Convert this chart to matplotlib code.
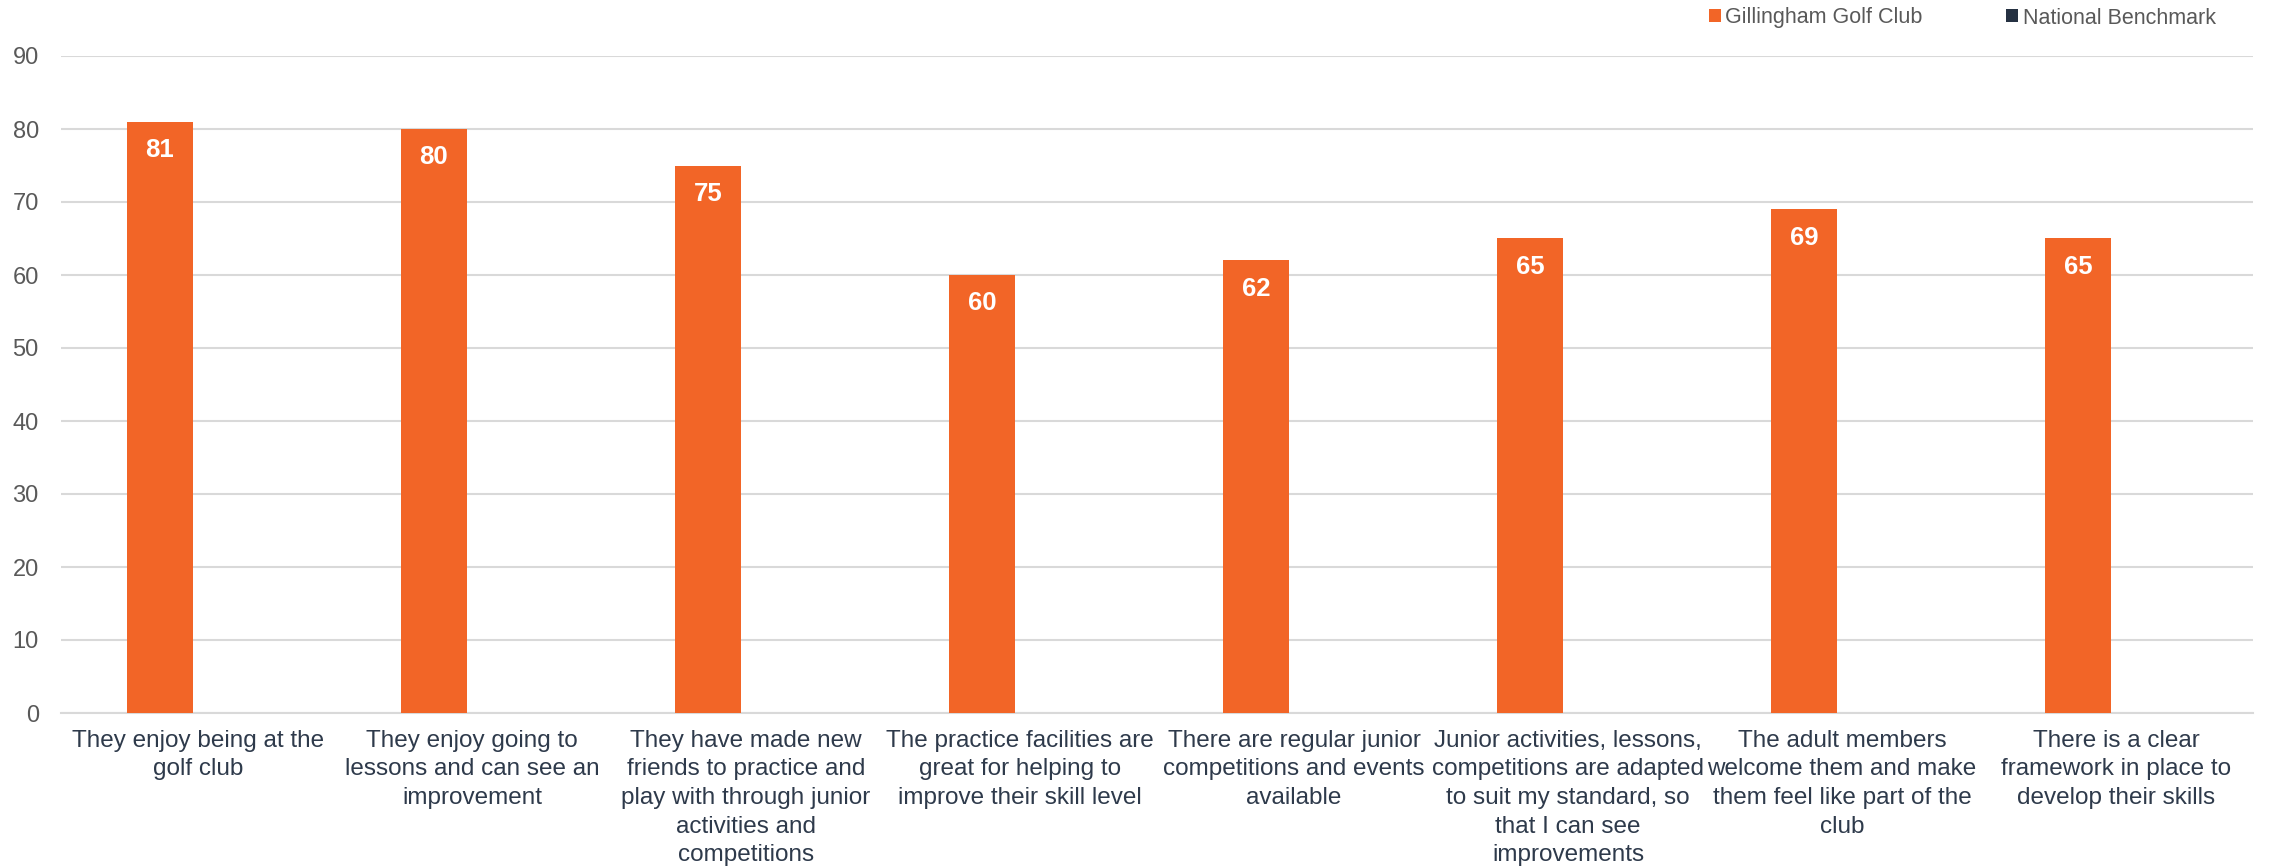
import numpy as np
import matplotlib.pyplot as plt

plt.rcParams['font.family'] = ['Liberation Sans', 'DejaVu Sans']

categories = [
    "They enjoy being at the\ngolf club",
    "They enjoy going to\nlessons and can see an\nimprovement",
    "They have made new\nfriends to practice and\nplay with through junior\nactivities and\ncompetitions",
    "The practice facilities are\ngreat for helping to\nimprove their skill level",
    "There are regular junior\ncompetitions and events\navailable",
    "Junior activities, lessons,\ncompetitions are adapted\nto suit my standard, so\nthat I can see\nimprovements",
    "The adult members\nwelcome them and make\nthem feel like part of the\nclub",
    "There is a clear\nframework in place to\ndevelop their skills",
]
club = [81, 80, 75, 60, 62, 65, 69, 65]
national = [np.nan] * 8  # no benchmark values shown
series_names = ["Gillingham Golf Club", "National Benchmark"]

orange = '#F26527'
navy = '#253142'

fig = plt.figure(figsize=(22.7, 8.66), dpi=100)
ax = fig.add_axes([61 / 2270, 1 - 713 / 866, (2253 - 61) / 2270, (713 - 56) / 866])

x = np.arange(len(categories))
w = 0.24
off = 0.139
b1 = ax.bar(x - off, club, w, color=orange, label=series_names[0], zorder=3)
b2 = ax.bar(x + off, national, w, color=navy, label=series_names[1], zorder=3)

for xi, v in zip(x - off, club):
    ax.text(xi, v - 3.9, str(v), ha='center', va='center', color='white',
            fontsize=18.5, fontweight='bold', zorder=4)

ax.set_xlim(-0.5, len(categories) - 0.5)
ax.set_ylim(0, 90)
ax.set_yticks(np.arange(0, 91, 10))
ax.yaxis.grid(True, color='#D9D9D9', linewidth=1.5, zorder=0)
ax.set_axisbelow(True)
for s in ['top', 'right', 'left']:
    ax.spines[s].set_visible(False)
ax.spines['bottom'].set_color('#D9D9D9')
ax.spines['bottom'].set_linewidth(1.5)

ax.set_xticks(x)
ax.set_xticklabels(categories, fontsize=17.5, color='#2E3A4B', linespacing=1.39, va='top')
ax.tick_params(axis='x', length=0, pad=12)
ax.tick_params(axis='y', length=0, pad=16, labelsize=17, labelcolor='#595959')

fig.legend(handles=[b1, b2], loc='center left', bbox_to_anchor=(1709 / 2270, 1 - 18 / 866),
           ncol=2, frameon=False, fontsize=15.5, borderpad=0, borderaxespad=0,
           handlelength=0.55, handleheight=0.55, handletextpad=0.2,
           columnspacing=3.9, labelcolor='#595959')

fig.savefig('out.png', dpi=100)
